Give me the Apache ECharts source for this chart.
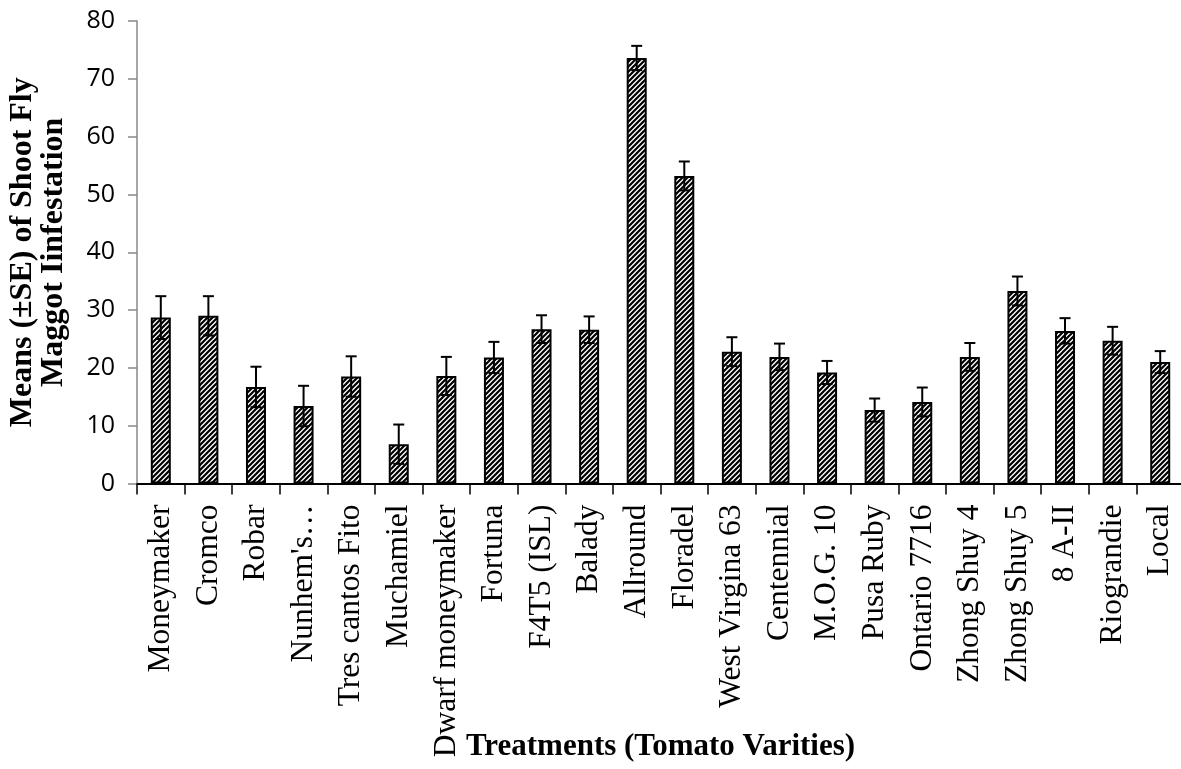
<!DOCTYPE html>
<html>
<head>
<meta charset="utf-8">
<script src="https://cdn.jsdelivr.net/npm/echarts@6/dist/echarts.min.js"></script>
<style>
  html, body { margin: 0; padding: 0; background: #fff; }
  #chart { width: 1181px; height: 769px; }
</style>
</head>
<body>
<div id="chart"></div>
<script>
// Tomato varieties and shoot fly maggot infestation (mean ± SE)
const categories = [
  'Moneymaker', 'Cromco', 'Robar', "Nunhem's…", 'Tres cantos Fito', 'Muchamiel',
  'Dwarf moneymaker', 'Fortuna', 'F4T5 (ISL)', 'Balady', 'Allround', 'Floradel',
  'West Virgina 63', 'Centennial', 'M.O.G. 10', 'Pusa Ruby', 'Ontario 7716',
  'Zhong Shuy 4', 'Zhong Shuy 5', '8 A-II', 'Riograndie', 'Local'
];
const means = [
  28.7, 29.0, 16.7, 13.4, 18.5, 6.8,
  18.6, 21.8, 26.7, 26.6, 73.6, 53.2,
  22.8, 21.9, 19.2, 12.7, 14.1,
  21.9, 33.3, 26.4, 24.7, 21.0
];
const stdErr = [
  3.7, 3.4, 3.5, 3.5, 3.5, 3.4,
  3.3, 2.7, 2.4, 2.3, 2.1, 2.5,
  2.5, 2.3, 2.0, 2.0, 2.5,
  2.4, 2.5, 2.2, 2.4, 1.9
];
const yTicks = { min: 0, max: 80, step: 10 };

// diagonal hatch fill for the bars
function hatchPattern() {
  const s = 5;
  const c = document.createElement('canvas');
  c.width = s; c.height = s;
  const g = c.getContext('2d');
  g.fillStyle = '#fff';
  g.fillRect(0, 0, s, s);
  g.strokeStyle = '#000';
  g.lineWidth = 2.2;
  g.beginPath();
  g.moveTo(-1, s + 1); g.lineTo(s + 1, -1);
  g.moveTo(-1, 1); g.lineTo(1, -1);
  g.moveTo(s - 1, s + 1); g.lineTo(s + 1, s - 1);
  g.stroke();
  return c;
}

const chart = echarts.init(document.getElementById('chart'), null, { renderer: 'canvas' });

const errData = means.map((m, i) => [i, m - stdErr[i], m + stdErr[i]]);

chart.setOption({
  backgroundColor: '#fff',
  animation: false,
  grid: {
    left: 137, top: 21, width: 1047, height: 462.5,
    containLabel: false,
    outerBoundsMode: 'none'
  },
  xAxis: {
    type: 'category',
    data: categories,
    boundaryGap: true,
    name: 'Treatments (Tomato Varities)',
    nameLocation: 'middle',
    nameGap: 248,
    nameMoveOverlap: false,
    nameTextStyle: { fontFamily: 'Liberation Serif', fontWeight: 'bold', fontSize: 31, color: '#000' },
    axisLine: { lineStyle: { color: '#000', width: 2 } },
    axisTick: { show: true, length: 11, lineStyle: { color: '#000', width: 1.5 } },
    axisLabel: {
      interval: 0, rotate: 90, margin: 21,
      fontFamily: 'Liberation Serif', fontSize: 31.5, color: '#000'
    },
    splitLine: { show: false }
  },
  yAxis: {
    type: 'value',
    min: yTicks.min, max: yTicks.max, interval: yTicks.step,
    name: 'Means (±SE) of Shoot Fly\nMaggot Iinfestation',
    nameLocation: 'middle',
    nameRotate: 90,
    nameGap: 68,
    nameMoveOverlap: false,
    nameTextStyle: { fontFamily: 'Liberation Serif', fontWeight: 'bold', fontSize: 32, color: '#000', lineHeight: 31 },
    axisLine: { show: true, lineStyle: { color: '#888', width: 1.5 } },
    axisTick: { show: true, inside: false, length: 9, lineStyle: { color: '#888', width: 1.5 } },
    axisLabel: { margin: 22, fontFamily: 'Open Sans', fontSize: 25, color: '#000' },
    splitLine: { show: false }
  },
  series: [
    {
      type: 'bar',
      data: means,
      barWidth: 20,
      itemStyle: {
        color: { image: hatchPattern(), repeat: 'repeat' },
        borderColor: '#000',
        borderWidth: 2
      },
      z: 2
    },
    {
      type: 'custom',
      data: errData,
      z: 3,
      renderItem: function (params, api) {
        const idx = api.value(0);
        const lo = api.coord([idx, api.value(1)]);
        const hi = api.coord([idx, api.value(2)]);
        const half = 5.5;
        const style = { stroke: '#000', lineWidth: 2 };
        return {
          type: 'group',
          children: [
            { type: 'line', shape: { x1: hi[0], y1: hi[1], x2: lo[0], y2: lo[1] }, style: style },
            { type: 'line', shape: { x1: hi[0] - half, y1: hi[1], x2: hi[0] + half, y2: hi[1] }, style: style },
            { type: 'line', shape: { x1: lo[0] - half, y1: lo[1], x2: lo[0] + half, y2: lo[1] }, style: style }
          ]
        };
      }
    }
  ]
});
</script>
</body>
</html>
